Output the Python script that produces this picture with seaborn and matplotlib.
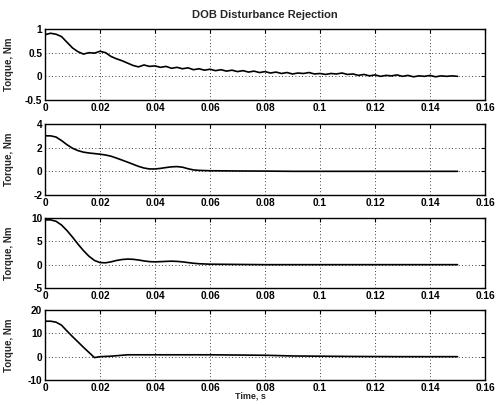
import matplotlib
matplotlib.use("Agg")
import matplotlib.pyplot as plt
import seaborn as sns
import pandas as pd

# ---- data ----
t1 = [round(0.002 * i, 3) for i in range(76)]
y1 = [0.88, 0.91, 0.89, 0.84, 0.72, 0.60, 0.52, 0.47, 0.50, 0.49,
      0.53, 0.50, 0.42, 0.37, 0.33, 0.28, 0.23, 0.20, 0.24, 0.21,
      0.22, 0.19, 0.21, 0.17, 0.19, 0.16, 0.18, 0.14, 0.16, 0.13,
      0.15, 0.12, 0.14, 0.11, 0.13, 0.10, 0.12, 0.09, 0.11, 0.08,
      0.10, 0.07, 0.09, 0.06, 0.08, 0.05, 0.07, 0.06, 0.08, 0.05,
      0.06, 0.04, 0.06, 0.05, 0.07, 0.04, 0.05, 0.02, 0.04, 0.01,
      0.03, 0.00, 0.02, 0.01, 0.03, 0.00, 0.02, -0.01, 0.01, 0.00,
      0.02, -0.01, 0.01, 0.00, 0.01, 0.00]

t_s = [0.000, 0.002, 0.004, 0.006, 0.008, 0.010, 0.012, 0.014, 0.016, 0.018,
       0.020, 0.022, 0.024, 0.026, 0.028, 0.030, 0.032, 0.034, 0.036, 0.038,
       0.040, 0.042, 0.044, 0.046, 0.048, 0.050, 0.052, 0.054, 0.056,
       0.060, 0.070, 0.080, 0.090, 0.100, 0.110, 0.120, 0.130, 0.140, 0.150]
y2 = [3.0, 3.0, 2.9, 2.6, 2.25, 1.95, 1.75, 1.62, 1.55, 1.5,
      1.45, 1.38, 1.28, 1.12, 0.95, 0.78, 0.6, 0.42, 0.28, 0.2,
      0.2, 0.25, 0.32, 0.38, 0.4, 0.35, 0.22, 0.12, 0.08,
      0.05, 0.03, 0.02, 0.0, 0.0, 0.0, 0.0, 0.0, 0.0, 0.0]
y3 = [9.6, 9.6, 9.3, 8.5, 7.3, 5.9, 4.4, 3.0, 1.8, 0.9,
      0.45, 0.4, 0.6, 0.9, 1.1, 1.2, 1.15, 1.0, 0.8, 0.65,
      0.6, 0.65, 0.7, 0.75, 0.7, 0.6, 0.45, 0.3, 0.2,
      0.1, 0.05, 0.0, 0.0, 0.0, 0.0, 0.0, 0.0, 0.0, 0.0]
y4 = [15.2, 15.2, 14.8, 13.5, 11.0, 8.6, 6.3, 4.0, 1.8, -0.4,
      0.0, 0.1, 0.2, 0.4, 0.6, 0.8, 0.8, 0.8, 0.8, 0.8,
      0.8, 0.8, 0.8, 0.8, 0.8, 0.8, 0.8, 0.8, 0.8,
      0.8, 0.7, 0.6, 0.3, 0.2, 0.1, 0.05, 0.0, 0.0, 0.0]

x_ticks = [0, 0.02, 0.04, 0.06, 0.08, 0.1, 0.12, 0.14, 0.16]
x_ticklabels = ["0", "0.02", "0.04", "0.06", "0.08", "0.1", "0.12", "0.14", "0.16"]
y_ticks = [[-0.5, 0, 0.5, 1], [-2, 0, 2, 4], [-5, 0, 5, 10], [-10, 0, 10, 20]]
y_ticklabels = [["-0.5", "0", "0.5", "1"], ["-2", "0", "2", "4"],
                ["-5", "0", "5", "10"], ["-10", "0", "10", "20"]]
title = "DOB Disturbance Rejection"
ylabel = "Torque, Nm"
xlabel = "Time, s"

sns.set_style("white")
plt.rcParams['font.family'] = ['Liberation Sans', 'DejaVu Sans']

fig = plt.figure(figsize=(4.97, 4.05), dpi=100)
W, H = 497, 405
left, right = 45, 485
panels = [(29, 100), (124, 195), (218, 288), (310, 380)]
series = [(t1, y1), (t_s, y2), (t_s, y3), (t_s, y4)]

axes = []
for i, ((top, bot), (tx, ty)) in enumerate(zip(panels, series)):
    ax = fig.add_axes([left / W, 1 - bot / H, (right - left) / W, (bot - top) / H])
    df = pd.DataFrame({"t": tx, "y": ty})
    sns.lineplot(data=df, x="t", y="y", ax=ax, color="black", linewidth=1.2)
    ax.set_xlim(0, 0.16)
    ax.set_ylim(y_ticks[i][0], y_ticks[i][-1])
    ax.set_xticks(x_ticks)
    ax.set_xticklabels(x_ticklabels, fontsize=7.3, fontweight="bold")
    ax.set_yticks(y_ticks[i])
    ax.set_yticklabels(y_ticklabels[i], fontsize=7.3, fontweight="bold")
    ax.set_xlabel("")
    ax.set_ylabel(ylabel, fontsize=7, fontweight="bold")
    ax.yaxis.set_label_coords(-0.07, 0.5)
    ax.grid(True, color="black", linestyle=(0, (1, 3)), linewidth=0.6)
    ax.tick_params(direction="in", length=3, width=0.8, top=True, right=True,
                   pad=2, colors="black")
    for s in ax.spines.values():
        s.set_color("black")
        s.set_linewidth(1.0)
    axes.append(ax)

axes[0].set_title(title, fontsize=8, fontweight="bold", pad=8)
fig.text(250 / W, 1 - 396 / H, xlabel, fontsize=6.5, fontweight="bold",
         ha="center", va="center")

fig.savefig("out.png", dpi=100)
